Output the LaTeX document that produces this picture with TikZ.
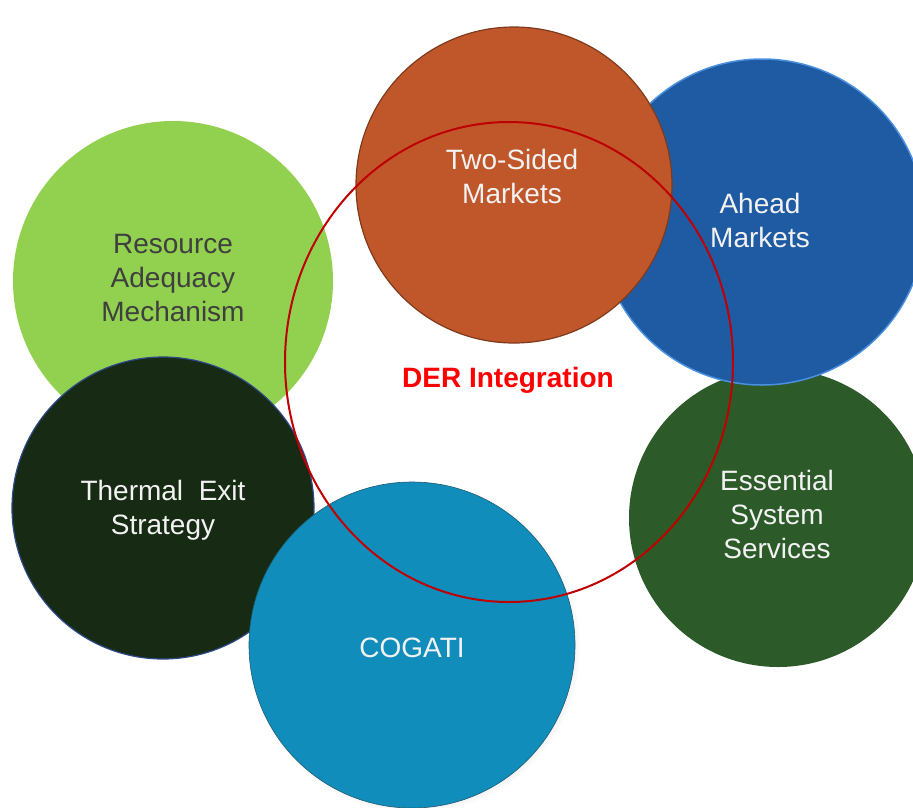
\documentclass[tikz,border=0pt]{standalone}
\usepackage{fontspec}
\setmainfont{Liberation Sans}
\usepackage{xcolor}
\usetikzlibrary{shapes.geometric, shadows}

\definecolor{resgreen}{HTML}{92D050}
\definecolor{thermfill}{HTML}{172A14}
\definecolor{thermline}{HTML}{2E4A8A}
\definecolor{cogfill}{HTML}{118DBB}
\definecolor{cogline}{HTML}{1E5A72}
\definecolor{essfill}{HTML}{2C5A28}
\definecolor{aheadfill}{HTML}{1F5BA2}
\definecolor{aheadline}{HTML}{4A90E0}
\definecolor{twofill}{HTML}{C0572A}
\definecolor{twoline}{HTML}{7F3A1C}
\definecolor{derline}{HTML}{C00000}
\definecolor{dertext}{HTML}{FF0000}
\definecolor{lighttext}{HTML}{F2F2F2}
\definecolor{darktext}{HTML}{3F3F3F}

\begin{document}
\begin{tikzpicture}[
x=1pt, y=-1pt,
bubble/.style={
    circle,
    inner sep=0pt,
    outer sep=0pt
},
lbl/.style={
    font=\fontsize{28}{34}\selectfont,
    align=center,
    text=lighttext,
    inner sep=0pt
}
]
\useasboundingbox (0,0) rectangle (913,807);
\clip (0,0) rectangle (913,807);

% market bubbles, back to front
\node (essential) [bubble, fill=essfill, minimum size=298pt] at (778,518) {};
\node (ahead) [bubble, fill=aheadfill, draw=aheadline, line width=1.5pt, minimum size=326pt] at (762,222) {};
\node (twosided) [bubble, fill=twofill, draw=twoline, line width=1.2pt, minimum size=316pt] at (514,185) {};
\node (resource) [bubble, fill=resgreen, minimum size=320pt] at (173,281) {};
\node (thermal) [bubble, fill=thermfill, draw=thermline, line width=1.2pt, minimum size=302pt] at (163,508) {};
\node (cogati) [bubble, fill=cogfill, draw=cogline, line width=0.6pt, minimum size=326pt,
    circular drop shadow={shadow xshift=2pt, shadow yshift=-2pt, shadow scale=1.02, opacity=0.35}] at (412,645) {};

% labels
\node [lbl] at (512,176) {Two-Sided\\Markets};
\node [lbl] at (760,220) {Ahead\\Markets};
\node [lbl, text=darktext] at (173,278) {Resource\\Adequacy\\Mechanism};
\node [lbl] at (163,510) {Thermal\ \ Exit\\Strategy};
\node [lbl] at (412,648) {COGATI};
\node [lbl] at (777,514) {Essential\\System\\Services};

% integration ring on top
\node (der) [ellipse, draw=derline, line width=2pt, inner sep=0pt,
    minimum width=448pt, minimum height=480pt] at (509,362) {};
\node [lbl, text=dertext, font=\fontsize{28}{34}\selectfont\bfseries] at (508,380) {DER Integration};

\end{tikzpicture}
\end{document}
